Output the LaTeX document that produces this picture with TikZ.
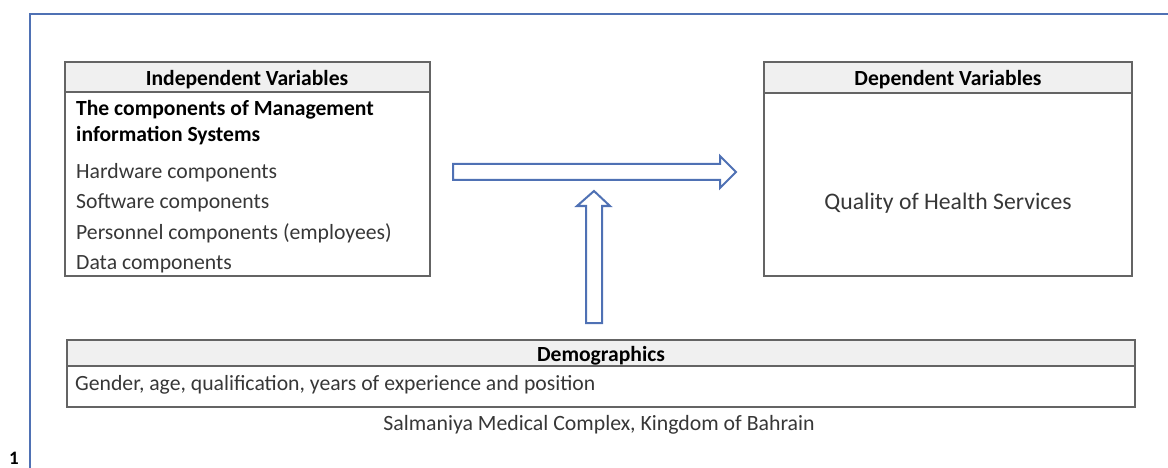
\documentclass[tikz,border=0pt]{standalone}
\usepackage{fontspec}
\setmainfont{Carlito}
\definecolor{framebl}{RGB}{79,113,180}
\definecolor{boxgray}{RGB}{100,100,100}
\definecolor{headfill}{RGB}{240,240,240}
\definecolor{txt}{RGB}{55,55,55}
\begin{document}
\begin{tikzpicture}[x=1pt,y=-1pt,
  boxline/.style={draw=boxgray,line width=1.8pt},
  headbox/.style={boxline,fill=headfill},
  arr/.style={draw=framebl,line width=2pt,fill=white,line join=miter},
  lbl/.style={inner sep=0pt,anchor=base west,text=txt,font=\fontsize{21.7}{24}\selectfont},
  hdr/.style={inner sep=0pt,anchor=base,text=black,font=\bfseries\fontsize{21.6}{24}\selectfont}]
\useasboundingbox (0,0) rectangle (1168,468);
% outer frame
\draw[framebl,line width=2.5pt] (30,470) -- (30,14) -- (1170,14);
\node[inner sep=0pt,anchor=base] (num) at (14,464) {\bfseries\fontsize{19}{22}\selectfont 1};
% independent box
\draw[headbox] (65,62) rectangle (430,92);
\draw[boxline] (65,92) rectangle (430,276);
\node[hdr] (ih) at (247,85.5) {Independent Variables};
\node[lbl,text=black,font=\bfseries\fontsize{21.6}{24}\selectfont] (i1) at (76,115.5) {The components of Management};
\node[lbl,text=black,font=\bfseries\fontsize{21.6}{24}\selectfont] (i2) at (76,141.5) {information Systems};
\node[lbl] (i3) at (76,178.5) {Hardware components};
\node[lbl] (i4) at (76,208.5) {Software components};
\node[lbl] (i5) at (76,239) {Personnel components (employees)};
\node[lbl] (i6) at (76,269.5) {Data components};
% dependent box
\draw[headbox] (764,62) rectangle (1132,93);
\draw[boxline] (764,93) rectangle (1132,276);
\node[hdr] (dh) at (948,85.5) {Dependent Variables};
\node[lbl,anchor=base,font=\fontsize{23.7}{26}\selectfont] (dq) at (948,209) {Quality of Health Services};
% demographics box
\draw[headbox] (67,340) rectangle (1135,366);
\draw[boxline] (67,366) rectangle (1135,407);
\node[hdr] (gh) at (601,361) {Demographics};
\node[lbl] (g1) at (75,390) {Gender, age, qualification, years of experience and position};
\node[lbl,anchor=base,font=\fontsize{21.8}{24}\selectfont] (loc) at (599,430) {Salmaniya Medical Complex, Kingdom of Bahrain};
% block arrows
\draw[arr] (453,164) -- (720,164) -- (720,156) -- (736,172) -- (720,188) -- (720,180) -- (453,180) -- cycle;
\draw[arr] (586,323) -- (586,206) -- (577,206) -- (594,191) -- (610,206) -- (602,206) -- (602,323) -- cycle;
\end{tikzpicture}
\end{document}
